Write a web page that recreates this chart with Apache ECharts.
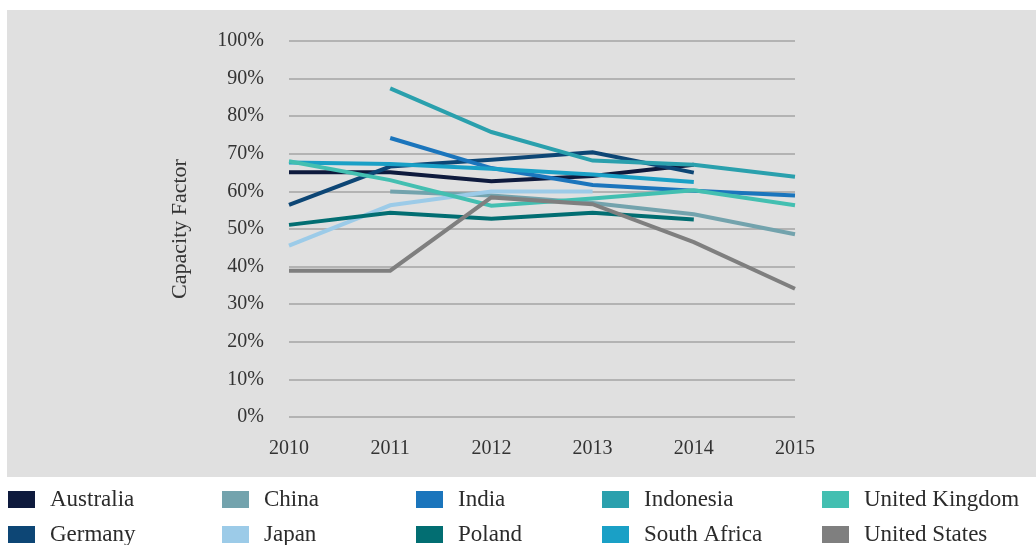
<!DOCTYPE html>
<html>
<head>
<meta charset="utf-8">
<title>Capacity Factor</title>
<script src="https://cdn.jsdelivr.net/npm/echarts@6/dist/echarts.min.js"></script>
<style>
  html, body { margin: 0; padding: 0; background: #ffffff; }
  #chart { width: 1036px; height: 545px; }
</style>
</head>
<body>
<div id="chart"></div>
<script>
// Years on the horizontal axis
var years = ['2010', '2011', '2012', '2013', '2014', '2015'];

// Tick values on the vertical axis (percent)
var yTicks = [0, 10, 20, 30, 40, 50, 60, 70, 80, 90, 100];

// Capacity factor by country, percent (null = no data)
var australia    = [65.1, 65.1, 62.7, 64.1, 67.1, null];
var germany      = [56.4, 66.6, 68.4, 70.4, 65.0, null];
var china        = [null, 60.0, 58.9, 56.9, 53.9, 48.6];
var japan        = [45.6, 56.3, 60.0, 60.0, null, null];
var india        = [null, 74.2, 66.2, 61.7, 60.2, 58.9];
var poland       = [51.1, 54.3, 52.7, 54.3, 52.5, null];
var indonesia    = [null, 87.4, 75.8, 68.2, 67.1, 63.9];
var southAfrica  = [67.7, 67.3, 66.0, 64.5, 62.5, null];
var unitedKingdom= [68.0, 63.0, 56.2, 58.1, 60.3, 56.3];
var unitedStates = [38.9, 38.9, 58.4, 56.6, 46.5, 34.1];

var seriesDefs = [
  { name: 'Australia',      data: australia,     color: '#0e1a3d' },
  { name: 'Germany',        data: germany,       color: '#0d4675' },
  { name: 'China',          data: china,         color: '#73a3ad' },
  { name: 'Japan',          data: japan,         color: '#9ccbe8' },
  { name: 'India',          data: india,         color: '#1b75bc' },
  { name: 'Poland',         data: poland,        color: '#026e72' },
  { name: 'Indonesia',      data: indonesia,     color: '#2aa0ad' },
  { name: 'South Africa',   data: southAfrica,   color: '#1aa0c6' },
  { name: 'United Kingdom', data: unitedKingdom, color: '#43bfb1' },
  { name: 'United States',  data: unitedStates,  color: '#7f7f7f' }
];

// Legend columns, two entries each, laid out left to right
var legendColumns = [
  { left: 8,   items: ['Australia', 'Germany'] },
  { left: 222, items: ['China', 'Japan'] },
  { left: 416, items: ['India', 'Poland'] },
  { left: 602, items: ['Indonesia', 'South Africa'] },
  { left: 822, items: ['United Kingdom', 'United States'] }
];

var serif = '"Liberation Serif", "DejaVu Serif", serif';

var chart = echarts.init(document.getElementById('chart'), null, { renderer: 'canvas' });

var option = {
  animation: false,
  backgroundColor: '#ffffff',
  color: seriesDefs.map(function (s) { return s.color; }),
  graphic: [{
    type: 'rect',
    z: -10,
    silent: true,
    shape: { x: 7, y: 10, width: 1029, height: 467 },
    style: { fill: '#e0e0e0' }
  }],
  grid: { left: 289, right: 241, top: 41, bottom: 128 },
  legend: legendColumns.map(function (col) {
    return {
      orient: 'vertical',
      left: col.left,
      top: 488,
      width: 210,
      height: 90,
      padding: 0,
      itemGap: 12,
      itemWidth: 27,
      itemHeight: 17,
      icon: 'rect',
      selectedMode: false,
      data: col.items,
      textStyle: {
        fontFamily: serif,
        fontSize: 23,
        lineHeight: 22,
        color: '#2b2b2b',
        padding: [0, 0, 0, 10]
      }
    };
  }),
  xAxis: {
    type: 'category',
    data: years,
    boundaryGap: false,
    axisLine: { show: false },
    axisTick: { show: false },
    axisLabel: {
      margin: 22,
      fontFamily: serif,
      fontSize: 20,
      color: '#333333'
    },
    splitLine: { show: false }
  },
  yAxis: {
    type: 'value',
    min: yTicks[0],
    max: yTicks[yTicks.length - 1],
    interval: yTicks[1] - yTicks[0],
    name: 'Capacity Factor',
    nameLocation: 'middle',
    nameGap: 98,
    nameRotate: 90,
    nameTextStyle: {
      fontFamily: serif,
      fontSize: 22,
      color: '#333333'
    },
    axisLine: { show: false },
    axisTick: { show: false },
    axisLabel: {
      margin: 25,
      fontFamily: serif,
      fontSize: 20,
      color: '#333333',
      formatter: '{value}%'
    },
    splitLine: {
      show: true,
      lineStyle: { color: '#a4a4a4', width: 1.5 }
    }
  },
  series: seriesDefs.map(function (s) {
    return {
      name: s.name,
      type: 'line',
      data: s.data,
      showSymbol: false,
      symbol: 'none',
      connectNulls: false,
      lineStyle: { width: 4, color: s.color, join: 'miter' },
      itemStyle: { color: s.color },
      emphasis: { disabled: true }
    };
  })
};

chart.setOption(option);
</script>
</body>
</html>
